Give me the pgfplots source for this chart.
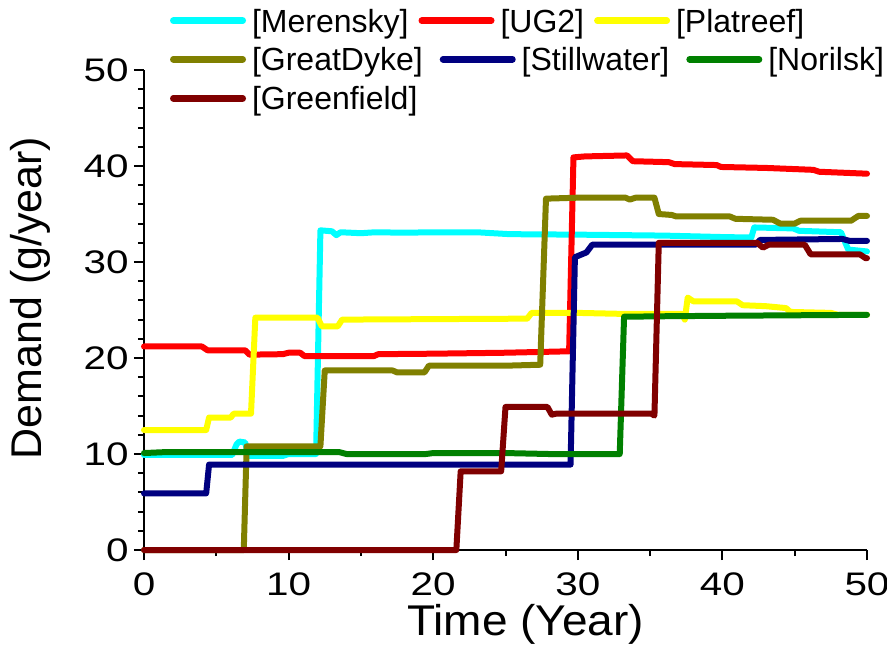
\documentclass[border=0pt]{standalone}
\usepackage{pgfplots}
\pgfplotsset{compat=1.18}
\usepackage{fontspec}
\setmainfont{Liberation Sans}
\newfontfamily\tickfont{Liberation Sans}[FakeStretch=1.24]
\newfontfamily\labfont{Liberation Sans}[FakeStretch=1.07]
\definecolor{cMer}{RGB}{0,255,255}
\definecolor{cUG}{RGB}{255,0,0}
\definecolor{cPla}{RGB}{255,255,0}
\definecolor{cGD}{RGB}{128,128,0}
\definecolor{cSti}{RGB}{0,0,128}
\definecolor{cNor}{RGB}{0,128,0}
\definecolor{cGre}{RGB}{128,0,0}
\begin{document}
\begin{tikzpicture}
\pgfplotsset{
  base/.style={at={(0pt,0pt)}, anchor=south west, scale only axis,
    width=361.5pt, height=240pt, xmin=0, xmax=50, ymin=0, ymax=50},
  legrow/.style 2 args={base, hide axis, legend columns=3,
    legend style={draw=none, fill=none, inner sep=0pt, outer sep=0pt,
      at={(axis description cs:0.036,#1)}, anchor=west,
      font=\fontsize{16}{18}\selectfont,
      nodes={inner sep=0pt, text height=11.5pt, text depth=0pt},
      cells={anchor=west}, /tikz/column sep=3pt,
      /tikz/every even column/.append style={column sep=#2}},
    legend image code/.code={\draw[##1, line width=3.3pt, line cap=round] (1.65pt,0pt) -- (36.35pt,0pt);}},
  ser/.style={line width=3pt, line join=round, line cap=round},
}
\begin{axis}[base,
  axis lines=left, axis line style={-, line width=1.2pt},
  tick align=outside,
  xtick={0,10,...,50}, ytick={0,10,...,50},
  minor x tick num=1, minor y tick num=4,
  major tick length=5pt, minor tick length=3pt,
  every tick/.style={black, line width=1pt},
  /pgf/number format/assume math mode=true,
  tick label style={font=\tickfont\fontsize{16.3}{18}\selectfont},
  xticklabel style={anchor=north, inner sep=0pt, yshift=-6.4pt},
  yticklabel style={anchor=east, inner sep=0pt, xshift=-2.5pt},
  xlabel={Time (Year)}, ylabel={Demand (g/year)},
  xlabel style={at={(axis description cs:0.528,-0.178)}, anchor=base, inner sep=0pt, font=\labfont\fontsize{21.5}{22}\selectfont},
  ylabel style={at={(axis description cs:-0.1411,0.525)}, anchor=base, inner sep=0pt, font=\fontsize{21.5}{22}\selectfont},
  clip=false,
]
% Merensky
\addplot[ser, cMer] coordinates {(0,9.9) (6.1,9.9) (6.4,11.0) (6.6,11.3) (7.0,11.2) (7.2,9.8) (9.6,9.8) (10,10.0) (11.9,10.0) (12.2,33.3) (13.0,33.2) (13.3,32.8) (13.6,33.1) (15,33.0) (16,33.1) (18,33.05) (20,33.1) (23,33.1) (25.3,32.9) (30,32.85) (33,32.8) (36,32.75) (40,32.6) (42.0,32.55) (42.2,33.6) (44.9,33.5) (45.3,33.25) (48.2,33.1) (48.7,31.3) (50,31.1)};
% UG2
\addplot[ser, cUG] coordinates {(0,21.2) (4.0,21.2) (4.4,20.8) (7.0,20.8) (7.3,20.35) (9.6,20.4) (10,20.55) (10.8,20.55) (11.1,20.2) (15.9,20.2) (16.2,20.4) (20,20.45) (25,20.55) (29.4,20.7) (29.7,40.9) (30.5,41.0) (33.4,41.1) (33.8,40.5) (36.3,40.4) (36.7,40.2) (39.6,40.1) (39.9,39.9) (43,39.8) (46.3,39.6) (46.7,39.4) (50,39.2)};
% Platreef
\addplot[ser, cPla] coordinates {(0,12.5) (4.3,12.5) (4.5,13.8) (6.0,13.8) (6.2,14.2) (7.4,14.2) (7.7,24.2) (12.0,24.2) (12.3,23.3) (13.4,23.3) (13.7,24.0) (20,24.05) (26.5,24.1) (26.8,24.7) (30,24.7) (33,24.6) (37.2,24.6) (37.4,24.0) (37.6,26.3) (38.0,25.9) (41,25.9) (41.4,25.5) (43,25.4) (44.4,25.2) (44.7,24.8) (47.5,24.7) (48,24.5) (50,24.5)};
% GreatDyke
\addplot[ser, cGD] coordinates {(0,0) (6.9,0) (7.1,10.8) (12.2,10.8) (12.5,18.7) (17.2,18.7) (17.5,18.5) (19.4,18.5) (19.7,19.2) (25,19.2) (27.4,19.3) (27.8,36.6) (30,36.7) (33.3,36.7) (33.6,36.5) (34,36.7) (35.3,36.7) (35.6,35.0) (36.5,34.9) (36.8,34.75) (40.5,34.75) (40.9,34.5) (43.5,34.4) (44.0,34.0) (45.0,34.0) (45.4,34.3) (48.9,34.3) (49.4,34.8) (50,34.8)};
% Stillwater
\addplot[ser, cSti] coordinates {(0,5.9) (4.3,5.9) (4.5,8.9) (29.5,8.9) (29.8,30.5) (30.6,31.0) (31.0,31.8) (42.3,31.8) (42.6,32.3) (48.3,32.4) (48.8,32.2) (50,32.2)};
% Norilsk
\addplot[ser, cNor] coordinates {(0,10.1) (1.5,10.2) (13.5,10.2) (14,10.0) (19.5,10.0) (20,10.1) (25,10.1) (28,10.0) (32.9,10.0) (33.2,24.3) (36,24.35) (40,24.4) (45,24.45) (50,24.5)};
% Greenfield
\addplot[ser, cGre] coordinates {(0,0) (21.6,0) (21.9,8.2) (24.7,8.2) (25.0,14.9) (27.9,14.9) (28.2,14.1) (28.5,14.2) (35.1,14.2) (35.3,14.0) (35.6,32.0) (42.4,32.0) (42.8,31.5) (43.2,31.8) (45.7,31.8) (46.1,30.8) (49.5,30.8) (49.9,30.4) (50,30.4)};
\end{axis}
\begin{axis}[legrow={1.1027}{5pt}]
\addlegendimage{cMer}\addlegendentry{{[}Merensky{]}}
\addlegendimage{cUG}\addlegendentry{{[}UG2{]}}
\addlegendimage{cPla}\addlegendentry{{[}Platreef{]}}
\end{axis}
\begin{axis}[legrow={1.0223}{8.5pt}]
\addlegendimage{cGD}\addlegendentry{{[}GreatDyke{]}}
\addlegendimage{cSti}\addlegendentry{{[}Stillwater{]}}
\addlegendimage{cNor}\addlegendentry{{[}Norilsk{]}}
\end{axis}
\begin{axis}[legrow={0.9410}{8.5pt}]
\addlegendimage{cGre}\addlegendentry{{[}Greenfield{]}}
\end{axis}
\pgfresetboundingbox
\path[use as bounding box] (-72pt,-50pt) rectangle (371.5pt,275pt);
\end{tikzpicture}
\end{document}
